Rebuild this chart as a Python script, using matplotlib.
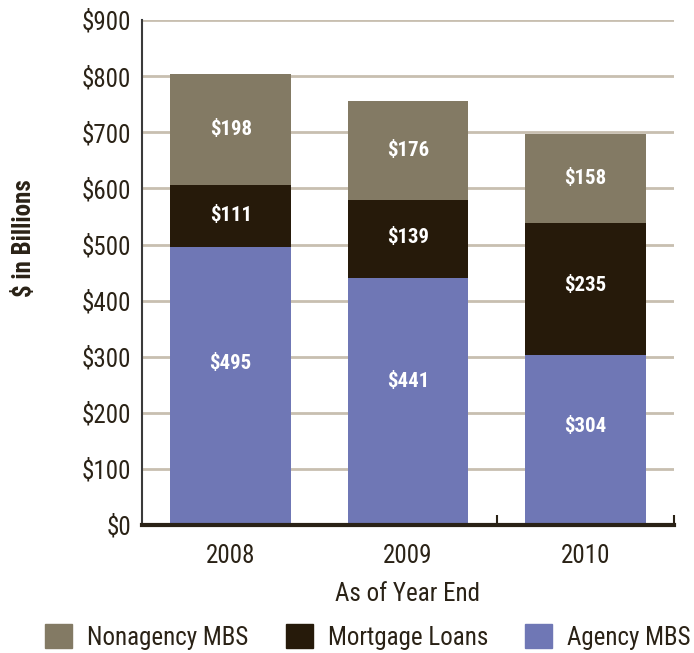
import numpy as np
import matplotlib
matplotlib.use("Agg")
from matplotlib import pyplot as plt
from matplotlib.patches import Patch
from matplotlib.ticker import FixedLocator
from matplotlib import font_manager

years = ["2008", "2009", "2010"]
agency = [495, 441, 304]
mortgage = [111, 139, 235]
nonagency = [198, 176, 158]

c_agency = "#6f77b5"
c_mort = "#261a0a"
c_nonag = "#837a64"
txt = "#2a2216"

names = set(f.name for f in font_manager.fontManager.ttflist)
fam = "Liberation Sans"
for cand in ["Roboto Condensed", "Liberation Sans Narrow", "Open Sans Condensed", "Noto Sans Condensed"]:
    if cand in names:
        fam = cand
        break
plt.rcParams['font.family'] = [fam, 'DejaVu Sans']
plt.rcParams['text.color'] = txt

fig = plt.figure(figsize=(6.94, 6.53), dpi=100)
ax = fig.add_axes([0.2046, 0.196, 0.7665, 0.773])

x = np.arange(len(years))
w = 0.68
ax.bar(x, agency, w, color=c_agency, zorder=3)
ax.bar(x, mortgage, w, bottom=agency, color=c_mort, zorder=3)
bot2 = np.array(agency) + np.array(mortgage)
ax.bar(x, nonagency, w, bottom=bot2, color=c_nonag, zorder=3)

for i in range(len(years)):
    for b, v, f in [(0, agency[i], 0.58), (agency[i], mortgage[i], 0.52), (bot2[i], nonagency[i], 0.5)]:
        ax.text(x[i], b + v * f, "$%d" % v, color="white", fontsize=15,
                fontweight="bold", ha="center", va="center", zorder=4)

ax.set_xlim(-0.5, 2.5)
ax.set_ylim(0, 900)
ax.set_yticks(range(0, 901, 100))
ax.set_yticklabels(["$%d" % v for v in range(0, 901, 100)], fontsize=18, color=txt)
ax.set_xticks(x)
ax.set_xticklabels(years, fontsize=18, color=txt)
ax.tick_params(axis='x', which='major', length=0, pad=14)
ax.tick_params(axis='y', length=0, pad=8)
ax.xaxis.set_minor_locator(FixedLocator([1.5, 2.5]))
ax.tick_params(axis='x', which='minor', direction='in', length=7, width=1.5, color=txt)

ax.grid(axis='y', color="#c8bfb0", linewidth=2, zorder=0)
for s in ["top", "right"]:
    ax.spines[s].set_visible(False)
ax.spines["left"].set_color("#3a3a3a")
ax.spines["left"].set_linewidth(1.5)
ax.spines["bottom"].set_color(txt)
ax.spines["bottom"].set_linewidth(3)
ax.spines["bottom"].set_zorder(5)

ax.set_xlabel("As of Year End", fontsize=18, color=txt, labelpad=10)
ax.set_ylabel("$ in Billions", fontsize=18, fontweight="bold", color=txt)
ax.yaxis.set_label_coords(-0.2, 0.568)

handles = [Patch(color=c_nonag), Patch(color=c_mort), Patch(color=c_agency)]
fig.legend(handles, ["Nonagency MBS", "Mortgage Loans", "Agency MBS"],
           loc="center", bbox_to_anchor=(0.53, 0.0245), ncol=3, frameon=False,
           fontsize=18, handlelength=1.08, handleheight=1.08, handletextpad=0.6,
           columnspacing=1.5, borderpad=0, borderaxespad=0)

fig.savefig("out.png", dpi=100)
